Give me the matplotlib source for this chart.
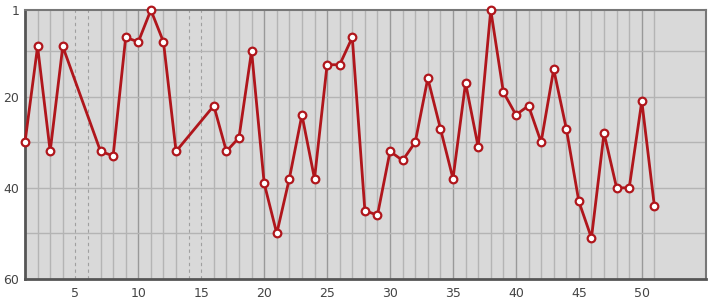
import matplotlib
matplotlib.use('Agg')
import matplotlib.pyplot as plt

# rank by position; positions 5, 6, 14, 15 have no value
positions = [1, 2, 3, 4, 7, 8, 9, 10, 11, 12, 13, 16, 17, 18, 19, 20, 21, 22, 23, 24,
             25, 26, 27, 28, 29, 30, 31, 32, 33, 34, 35, 36, 37, 38, 39, 40, 41, 42,
             43, 44, 45, 46, 47, 48, 49, 50, 51]
ranks = [30, 9, 32, 9, 32, 33, 7, 8, 1, 8, 32, 22, 32, 29, 10, 39, 50, 38, 24, 38,
         13, 13, 7, 45, 46, 32, 34, 30, 16, 27, 38, 17, 31, 1, 19, 24, 22, 30,
         14, 27, 43, 51, 28, 40, 40, 21, 44]
missing = [5, 6, 14, 15]
x_ticks = [5, 10, 15, 20, 25, 30, 35, 40, 45, 50]
y_ticks = [1, 20, 40, 60]
y_grid = [10, 20, 30, 40, 50]

fig = plt.figure(figsize=(7.15, 3.0), dpi=100)
ax = fig.add_axes([25 / 715, 1 - 279 / 300, 681 / 715, 269 / 300])
ax.set_facecolor('#d9d9d9')

# vertical grid: one line per position, dashed where data is missing
for x in range(2, 52):
    if x in missing:
        ax.axvline(x, color='#a0a0a0', lw=0.8, ls=(0, (3, 3)), zorder=1)
    elif x % 5 == 0:
        ax.axvline(x, color='#999999', lw=1.0, zorder=1)
    else:
        ax.axvline(x, color='#b4b4b4', lw=1.0, zorder=1)
for y in y_grid:
    ax.axhline(y, color='#b4b4b4', lw=1.0, zorder=1)

ax.plot(positions, ranks, color='#b0161c', lw=2, marker='o', ms=5.5,
        mfc='white', mec='#b0161c', mew=1.6, zorder=3, clip_on=False)

ax.set_xlim(1, 55.1)
ax.set_ylim(60, 1)
ax.set_xticks(x_ticks)
ax.set_yticks(y_ticks)
ax.tick_params(length=0, labelsize=9, colors='#444444', pad=6)
ax.tick_params(axis='y', pad=4)

for side in ['left', 'bottom']:
    ax.spines[side].set_color('#555555')
    ax.spines[side].set_linewidth(2)
for side in ['top', 'right']:
    ax.spines[side].set_color('#777777')
    ax.spines[side].set_linewidth(1.5)

plt.savefig('out.png', dpi=100)
